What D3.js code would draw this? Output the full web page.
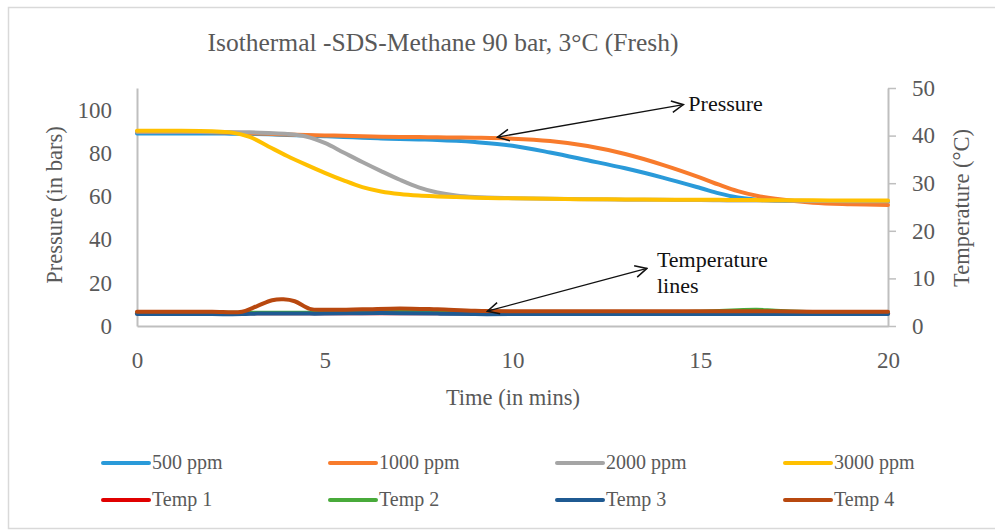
<!DOCTYPE html>
<html>
<head>
<meta charset="utf-8">
<script src="https://cdn.jsdelivr.net/npm/d3@7"></script>
<style>
  body { margin: 0; background: #fff; }
  svg text { font-family: "Liberation Serif", "DejaVu Serif", serif; }
</style>
</head>
<body>
<div id="chart"></div>
<script>
// time axis for the pressure runs (mins)
const pTime = [0, 1, 2, 2.5, 3, 3.5, 4, 4.5, 5, 5.5, 6, 6.5, 7, 7.5, 8, 8.5, 9, 10, 11, 12, 13, 14, 15, 15.5, 16, 16.5, 17, 18, 19, 20];
// pressure in bars
const p500 = [89.0, 89.0, 89.0, 88.9, 88.8, 88.6, 88.3, 88.0, 87.7, 87.4, 87.0, 86.7, 86.4, 86.2, 86.0, 85.6, 85.0, 83.3, 80.2, 76.6, 72.9, 68.6, 63.8, 61.3, 59.4, 58.4, 57.9, 57.7, 57.6, 57.5];
const p1000 = [89.8, 89.8, 89.6, 89.4, 89.1, 88.8, 88.5, 88.3, 88.1, 87.9, 87.7, 87.5, 87.4, 87.3, 87.2, 87.1, 87.0, 86.6, 85.5, 83.2, 79.5, 74.5, 68.6, 65.3, 62.3, 60.2, 58.8, 57.0, 56.3, 55.9];
const p2000 = [89.8, 89.8, 89.7, 89.6, 89.5, 89.2, 88.8, 87.6, 84.6, 80.2, 75.8, 71.6, 67.6, 64.1, 61.7, 60.3, 59.6, 59.1, 58.8, 58.6, 58.4, 58.3, 58.2, 58.1, 58.0, 58.0, 57.9, 57.8, 57.7, 57.6];
const p3000 = [90.2, 90.2, 90.0, 89.5, 87.4, 83.0, 78.6, 74.6, 70.8, 67.3, 64.2, 62.2, 61.0, 60.3, 59.9, 59.6, 59.3, 59.0, 58.8, 58.6, 58.5, 58.4, 58.3, 58.3, 58.2, 58.2, 58.1, 58.1, 58.0, 58.0];

// time axis for the temperature probes (mins)
const tTime = [0, 1, 2, 2.8, 3.2, 3.6, 3.9, 4.2, 4.6, 5, 6, 7, 8, 9, 10, 12, 14, 15, 16, 16.5, 17, 18, 20];
// temperature in deg C
const temp1 = [2.7, 2.7, 2.7, 2.7, 2.7, 2.7, 2.7, 2.7, 2.7, 2.7, 2.7, 2.7, 2.7, 2.7, 2.7, 2.7, 2.7, 2.7, 2.7, 2.7, 2.7, 2.7, 2.7];
const temp2 = [2.8, 2.8, 2.8, 2.8, 2.8, 2.8, 2.8, 2.8, 2.8, 2.8, 3.0, 3.1, 3.0, 2.8, 2.8, 2.8, 2.8, 3.0, 3.3, 3.4, 3.2, 2.9, 2.8];
const temp3 = [2.5, 2.5, 2.5, 2.5, 2.6, 2.6, 2.6, 2.6, 2.6, 2.6, 2.7, 2.7, 2.6, 2.5, 2.5, 2.5, 2.5, 2.5, 2.5, 2.5, 2.5, 2.5, 2.5];
const temp4 = [3.0, 3.0, 3.0, 3.0, 4.2, 5.4, 5.6, 5.2, 3.6, 3.4, 3.5, 3.7, 3.5, 3.2, 3.1, 3.1, 3.1, 3.1, 3.1, 3.1, 3.1, 3.0, 3.0];

const xTicks = [0, 5, 10, 15, 20];
const pTicks = [0, 20, 40, 60, 80, 100];
const tTicks = [0, 10, 20, 30, 40, 50];

const pressureSeries = [
  { name: "500 ppm", values: p500, color: "#2a9ad9" },
  { name: "1000 ppm", values: p1000, color: "#f87b2c" },
  { name: "2000 ppm", values: p2000, color: "#a5a5a5" },
  { name: "3000 ppm", values: p3000, color: "#ffc000" }
];
const tempSeries = [
  { name: "Temp 1", values: temp1, color: "#e00000" },
  { name: "Temp 2", values: temp2, color: "#48aa3a" },
  { name: "Temp 3", values: temp3, color: "#1f5a92" },
  { name: "Temp 4", values: temp4, color: "#b8480f" }
];

const width = 995, height = 532;
const plot = { left: 137, right: 888, top: 88, bottom: 326 };
const axisColor = "#bfbfbf";
const textColor = "#595959";

const svg = d3.select("#chart").append("svg")
  .attr("width", width)
  .attr("height", height);

// outer frame
svg.append("rect")
  .attr("x", 8.5).attr("y", 7.5)
  .attr("width", 990).attr("height", 521)
  .attr("fill", "#fff")
  .attr("stroke", "#d9d9d9")
  .attr("stroke-width", 1.5);

const x = d3.scaleLinear().domain([0, 20]).range([plot.left, plot.right]);
const yP = d3.scaleLinear().domain([0, 110]).range([plot.bottom, plot.top]);
const yT = d3.scaleLinear().domain([0, 50]).range([plot.bottom, plot.top]);

// title
svg.append("text")
  .attr("x", 443).attr("y", 51)
  .attr("text-anchor", "middle")
  .attr("fill", textColor)
  .style("font-size", "25.5px")
  .text("Isothermal -SDS-Methane 90 bar, 3°C (Fresh)");

// left axis
const leftAxis = svg.append("g")
  .attr("transform", `translate(${plot.left},0)`)
  .call(d3.axisLeft(yP).tickValues(pTicks).tickSize(0).tickPadding(25));
leftAxis.select(".domain").attr("stroke", axisColor).attr("stroke-width", 2);
leftAxis.selectAll("text").attr("fill", textColor).style("font-size", "23px");

// right axis
const rightAxis = svg.append("g")
  .attr("transform", `translate(${plot.right},0)`)
  .call(d3.axisRight(yT).tickValues(tTicks).tickSize(8).tickSizeOuter(0).tickPadding(16));
rightAxis.select(".domain").attr("stroke", axisColor).attr("stroke-width", 2);
rightAxis.selectAll("line").attr("stroke", axisColor).attr("stroke-width", 1.5);
rightAxis.selectAll("text").attr("fill", textColor).style("font-size", "23px");

// bottom axis
const bottomAxis = svg.append("g")
  .attr("transform", `translate(0,${plot.bottom})`)
  .call(d3.axisBottom(x).tickValues(xTicks).tickSize(0).tickPadding(26));
bottomAxis.select(".domain").attr("stroke", axisColor).attr("stroke-width", 2);
bottomAxis.selectAll("text").attr("fill", textColor).style("font-size", "23px");

// axis titles
svg.append("text")
  .attr("transform", "translate(62,205) rotate(-90)")
  .attr("text-anchor", "middle")
  .attr("fill", textColor)
  .style("font-size", "22.5px")
  .text("Pressure (in bars)");

svg.append("text")
  .attr("transform", "translate(969,208) rotate(-90)")
  .attr("text-anchor", "middle")
  .attr("fill", textColor)
  .style("font-size", "22.5px")
  .text("Temperature (°C)");

svg.append("text")
  .attr("x", 513).attr("y", 405)
  .attr("text-anchor", "middle")
  .attr("fill", textColor)
  .style("font-size", "22.5px")
  .text("Time (in mins)");

// lines
const pLine = d3.line()
  .x((d) => x(d[0]))
  .y((d) => yP(d[1]))
  .curve(d3.curveCatmullRom.alpha(0.5));
const tLine = d3.line()
  .x((d) => x(d[0]))
  .y((d) => yT(d[1]))
  .curve(d3.curveCatmullRom.alpha(0.5));

pressureSeries.forEach((s) => {
  svg.append("path")
    .datum(pTime.map((t, i) => [t, s.values[i]]))
    .attr("d", pLine)
    .attr("fill", "none")
    .attr("stroke", s.color)
    .attr("stroke-width", 4)
    .attr("stroke-linecap", "round");
});

tempSeries.forEach((s) => {
  svg.append("path")
    .datum(tTime.map((t, i) => [t, s.values[i]]))
    .attr("d", tLine)
    .attr("fill", "none")
    .attr("stroke", s.color)
    .attr("stroke-width", 4)
    .attr("stroke-linecap", "round");
});

// annotation arrows (double headed, open heads)
const defs = svg.append("defs");
defs.append("marker")
  .attr("id", "head")
  .attr("viewBox", "0 0 12 12")
  .attr("refX", 11).attr("refY", 6)
  .attr("markerWidth", 14).attr("markerHeight", 14)
  .attr("markerUnits", "userSpaceOnUse")
  .attr("orient", "auto-start-reverse")
  .append("path")
  .attr("d", "M1,1 L11,6 L1,11")
  .attr("fill", "none")
  .attr("stroke", "#111")
  .attr("stroke-width", 1.3);

function arrow(x1, y1, x2, y2) {
  svg.append("line")
    .attr("x1", x1).attr("y1", y1)
    .attr("x2", x2).attr("y2", y2)
    .attr("stroke", "#111")
    .attr("stroke-width", 1.3)
    .attr("marker-start", "url(#head)")
    .attr("marker-end", "url(#head)");
}

arrow(x(9.6), yP(87.3), x(14.55), yP(102.3));
svg.append("text")
  .attr("x", x(14.55) + 5).attr("y", yP(102.3) + 6)
  .attr("fill", "#111")
  .style("font-size", "22px")
  .text("Pressure");

arrow(x(9.33), yT(3.1), x(13.58), yT(12.1));
svg.append("text")
  .attr("x", x(13.58) + 10).attr("y", yT(12.1) - 1)
  .attr("fill", "#111")
  .style("font-size", "22px")
  .text("Temperature");
svg.append("text")
  .attr("x", x(13.58) + 10).attr("y", yT(12.1) + 25)
  .attr("fill", "#111")
  .style("font-size", "22px")
  .text("lines");

// legend
const legendCols = [101, 328, 555, 783];
const legendRows = [463, 500];
const legendItems = pressureSeries.concat(tempSeries);

const legend = svg.append("g");
legendItems.forEach((s, i) => {
  const lx = legendCols[i % 4];
  const ly = legendRows[Math.floor(i / 4)];
  legend.append("line")
    .attr("x1", lx + 2).attr("x2", lx + 48)
    .attr("y1", ly).attr("y2", ly)
    .attr("stroke", s.color)
    .attr("stroke-width", 4)
    .attr("stroke-linecap", "round");
  legend.append("text")
    .attr("x", lx + 51).attr("y", ly + 6)
    .attr("fill", textColor)
    .style("font-size", "20px")
    .text(s.name);
});
</script>
</body>
</html>
